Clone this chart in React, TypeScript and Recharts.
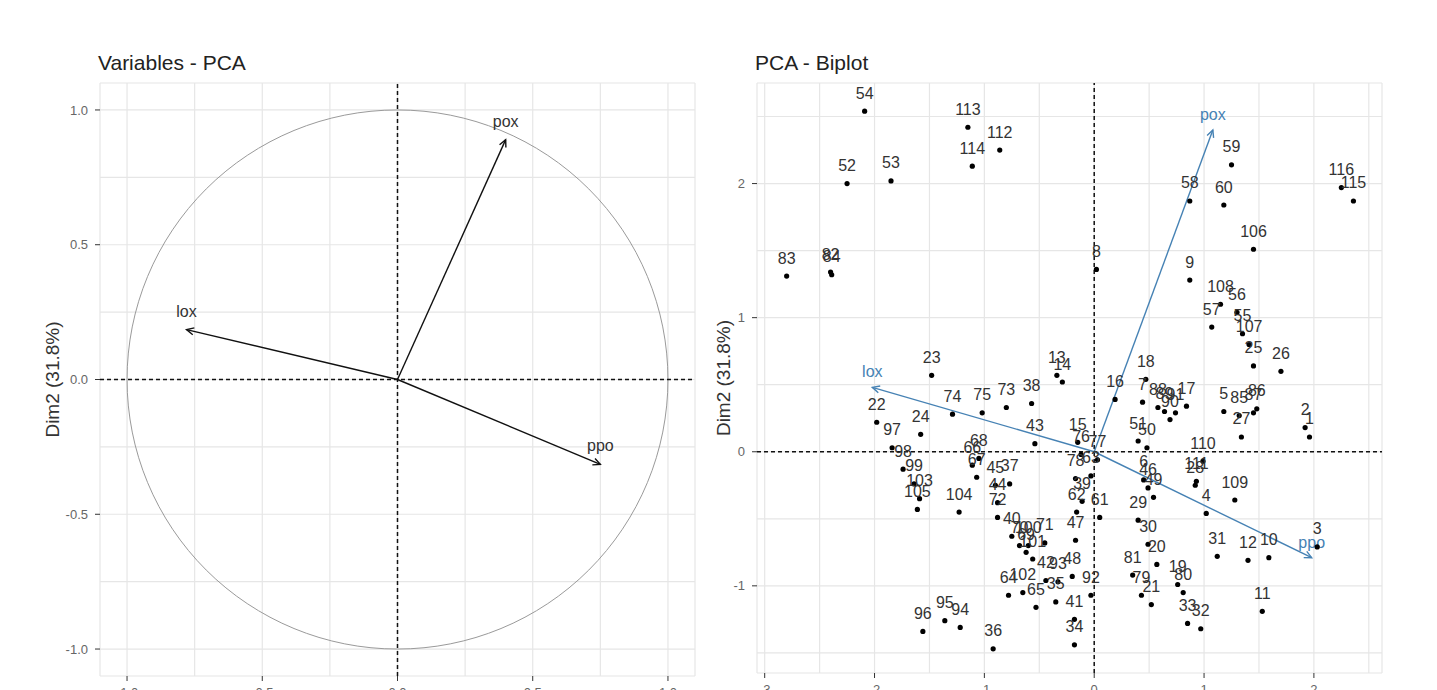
import {
  ScatterChart,
  Scatter,
  XAxis,
  YAxis,
  CartesianGrid,
  ReferenceLine,
  ReferenceArea,
  LabelList,
} from 'recharts';

// variables plot (correlation circle)
const varNames = ['lox', 'pox', 'ppo'];
const varDim1 = [-0.78, 0.4, 0.75];
const varDim2 = [0.185, 0.89, -0.315];

// same variables, scaled for the biplot
const bipVarDim1 = [-2.02, 1.08, 1.98];
const bipVarDim2 = [0.48, 2.4, -0.79];

// individuals
const obsIds = [
  '1', '2', '3', '4', '5', '6', '7', '8', '9', '10', '11', '12', '13', '14', '15', '16', '17', '18', '19', '20',
  '21', '22', '23', '24', '25', '26', '27', '28', '29', '30', '31', '32', '33', '34', '35', '36', '37', '38', '39', '40',
  '41', '42', '43', '44', '45', '46', '47', '48', '49', '50', '51', '52', '53', '54', '55', '56', '57', '58', '59', '60',
  '61', '62', '63', '64', '65', '66', '67', '68', '69', '70', '71', '72', '73', '74', '75', '76', '77', '78', '79', '80',
  '81', '82', '83', '84', '85', '86', '87', '88', '89', '90', '91', '92', '93', '94', '95', '96', '97', '98', '99', '100',
  '101', '102', '103', '104', '105', '106', '107', '108', '109', '110', '111', '112', '113', '114', '115', '116',
];
const obsDim1 = [
  1.96, 1.92, 2.03, 1.02, 1.18, 0.45, 0.44, 0.02, 0.87, 1.59, 1.53, 1.4, -0.34, -0.29, -0.15, 0.19, 0.84, 0.47, 0.76, 0.57,
  0.52, -1.98, -1.48, -1.58, 1.45, 1.7, 1.34, 0.92, 0.4, 0.49, 1.12, 0.97, 0.85, -0.18, -0.35, -0.92, -0.77, -0.57, -0.11, -0.75,
  -0.18, -0.44, -0.54, -0.88, -0.9, 0.49, -0.17, -0.2, 0.54, 0.48, 0.4, -2.25, -1.85, -2.09, 1.35, 1.3, 1.07, 0.87, 1.25, 1.18,
  0.05, -0.16, -0.03, -0.78, -0.53, -1.11, -1.07, -1.05, -0.62, -0.68, -0.45, -0.88, -0.8, -1.29, -1.02, -0.12, 0.03, -0.17, 0.43, 0.81,
  0.35, -2.4, -2.8, -2.39, 1.32, 1.48, 1.45, 0.58, 0.64, 0.69, 0.74, -0.03, -0.33, -1.22, -1.36, -1.56, -1.84, -1.74, -1.64, -0.6,
  -0.56, -0.65, -1.59, -1.23, -1.61, 1.45, 1.41, 1.15, 1.28, 0.99, 0.93, -0.86, -1.15, -1.11, 2.36, 2.25,
];
const obsDim2 = [
  0.11, 0.18, -0.71, -0.46, 0.3, -0.21, 0.37, 1.36, 1.28, -0.79, -1.19, -0.81, 0.57, 0.52, 0.07, 0.39, 0.34, 0.54, -0.99, -0.84,
  -1.14, 0.22, 0.57, 0.13, 0.64, 0.6, 0.11, -0.25, -0.51, -0.69, -0.78, -1.32, -1.28, -1.44, -1.12, -1.47, -0.24, 0.36, -0.37, -0.63,
  -1.25, -0.96, 0.06, -0.38, -0.25, -0.27, -0.66, -0.93, -0.34, 0.03, 0.08, 2.0, 2.02, 2.54, 0.88, 1.04, 0.93, 1.87, 2.14, 1.84,
  -0.49, -0.45, -0.18, -1.07, -1.16, -0.1, -0.19, -0.05, -0.75, -0.7, -0.68, -0.49, 0.33, 0.28, 0.29, -0.02, -0.06, -0.2, -1.07, -1.05,
  -0.92, 1.34, 1.31, 1.32, 0.27, 0.32, 0.29, 0.33, 0.3, 0.24, 0.29, -1.07, -0.97, -1.31, -1.26, -1.34, 0.03, -0.13, -0.24, -0.7,
  -0.8, -1.05, -0.35, -0.45, -0.43, 1.51, 0.8, 1.1, -0.36, -0.07, -0.22, 2.25, 2.42, 2.13, 1.87, 1.97,
];

const varTicks = [-1, -0.75, -0.5, -0.25, 0, 0.25, 0.5, 0.75, 1];
const bipXTicks = [-3, -2.5, -2, -1.5, -1, -0.5, 0, 0.5, 1, 1.5, 2, 2.5];
const bipYTicks = [-1.5, -1, -0.5, 0, 0.5, 1, 1.5, 2, 2.5];

const yTitle = 'Dim2 (31.8%)';

const FONT = '"Liberation Sans", Arial, sans-serif';
const GRID = '#e6e6e6';
const STEEL = '#4682b4';
const TICK_SIZE = 5;
const TICK_MARGIN = 7;

const varData = varNames.map((name, i) => ({ name, x: varDim1[i], y: varDim2[i] }));
const obsData = obsIds.map((id, i) => ({ id, x: obsDim1[i], y: obsDim2[i] }));

function isMajor(v: number, step: number) {
  return Math.abs(v / step - Math.round(v / step)) < 1e-9;
}

function leftTick(step: number, fmt: (v: number) => string) {
  return (props: any) => {
    const { x, y, payload } = props;
    if (!isMajor(payload.value, step)) return <g />;
    return (
      <g>
        <line x1={x + TICK_MARGIN} x2={x + TICK_MARGIN + TICK_SIZE} y1={y} y2={y} stroke="#333" />
        <text x={x} y={y} dy="0.35em" textAnchor="end" fontSize={13} fill="#666" fontFamily={FONT}>
          {fmt(payload.value)}
        </text>
      </g>
    );
  };
}

function bottomTick(step: number, fmt: (v: number) => string) {
  return (props: any) => {
    const { x, y, payload } = props;
    if (!isMajor(payload.value, step)) return <g />;
    return (
      <g>
        <line x1={x} x2={x} y1={y - TICK_MARGIN - TICK_SIZE} y2={y - TICK_MARGIN} stroke="#333" />
        <text x={x} y={y} dy="0.71em" textAnchor="middle" fontSize={13} fill="#666" fontFamily={FONT}>
          {fmt(payload.value)}
        </text>
      </g>
    );
  };
}

function arrowShape(label: string, color: string, labelColor: string, lift: number) {
  return (p: any) => {
    const { x1, y1, x2, y2 } = p;
    const ang = Math.atan2(y2 - y1, x2 - x1);
    const len = 8;
    const spread = Math.PI / 7;
    const ax = x2 - len * Math.cos(ang - spread);
    const ay = y2 - len * Math.sin(ang - spread);
    const bx = x2 - len * Math.cos(ang + spread);
    const by = y2 - len * Math.sin(ang + spread);
    return (
      <g>
        <line x1={x1} y1={y1} x2={x2} y2={y2} stroke={color} strokeWidth={1.4} />
        <polyline points={`${ax},${ay} ${x2},${y2} ${bx},${by}`} fill="none" stroke={color} strokeWidth={1.4} />
        <text x={x2} y={y2 - lift} textAnchor="middle" fontSize={16} fill={labelColor} fontFamily={FONT}>
          {label}
        </text>
      </g>
    );
  };
}

const circleShape = (p: any) => (
  <ellipse
    cx={p.x + p.width / 2}
    cy={p.y + p.height / 2}
    rx={p.width / 2}
    ry={p.height / 2}
    fill="none"
    stroke="#9a9a9a"
    strokeWidth={1}
  />
);

const dot = (p: any) => <circle cx={p.cx} cy={p.cy} r={2.6} fill="#000" />;

const fmt1 = (v: number) => v.toFixed(1);
const fmt0 = (v: number) => String(v);

function VariablesPlot() {
  return (
    <ScatterChart width={705} height={690} margin={{ top: 83, right: 10, bottom: 0, left: 0 }}>
      <CartesianGrid stroke={GRID} strokeWidth={1.2} />
      <XAxis
        type="number"
        dataKey="x"
        domain={[-1.1, 1.1]}
        allowDataOverflow
        ticks={varTicks}
        interval={0}
        height={14}
        axisLine={false}
        tickLine={false}
        tickSize={TICK_SIZE}
        tickMargin={TICK_MARGIN}
        tick={bottomTick(0.5, fmt1)}
      />
      <YAxis
        type="number"
        dataKey="y"
        domain={[-1.1, 1.1]}
        allowDataOverflow
        ticks={varTicks}
        interval={0}
        width={100}
        axisLine={false}
        tickLine={false}
        tickSize={TICK_SIZE}
        tickMargin={TICK_MARGIN}
        tick={leftTick(0.5, fmt1)}
        label={{ value: yTitle, angle: -90, position: 'center', dx: 2, fontSize: 19, fill: '#333', fontFamily: FONT }}
      />
      <ReferenceArea x1={-1} x2={1} y1={-1} y2={1} shape={circleShape} />
      <ReferenceLine x={0} stroke="#111" strokeWidth={1.5} strokeDasharray="4 3" />
      <ReferenceLine y={0} stroke="#111" strokeWidth={1.5} strokeDasharray="4 3" />
      {varData.map((v) => (
        <ReferenceLine
          key={v.name}
          segment={[{ x: 0, y: 0 }, { x: v.x, y: v.y }]}
          shape={arrowShape(v.name, '#111', '#333', 13)}
        />
      ))}
      <Scatter data={varData} shape={() => <g />} isAnimationActive={false} />
    </ScatterChart>
  );
}

function BiplotPlot() {
  return (
    <ScatterChart width={737} height={690} margin={{ top: 83, right: 55, bottom: 0, left: 0 }}>
      <CartesianGrid stroke={GRID} strokeWidth={1.2} />
      <XAxis
        type="number"
        dataKey="x"
        domain={[-3.07, 2.62]}
        allowDataOverflow
        ticks={bipXTicks}
        interval={0}
        height={17}
        axisLine={false}
        tickLine={false}
        tickSize={TICK_SIZE}
        tickMargin={TICK_MARGIN}
        tick={bottomTick(1, fmt0)}
      />
      <YAxis
        type="number"
        dataKey="y"
        domain={[-1.65, 2.75]}
        allowDataOverflow
        ticks={bipYTicks}
        interval={0}
        width={57}
        axisLine={false}
        tickLine={false}
        tickSize={TICK_SIZE}
        tickMargin={TICK_MARGIN}
        tick={leftTick(1, fmt0)}
        label={{ value: yTitle, angle: -90, position: 'center', dx: -5, fontSize: 19, fill: '#333', fontFamily: FONT }}
      />
      <ReferenceLine x={0} stroke="#111" strokeWidth={1.5} strokeDasharray="4 3" />
      <ReferenceLine y={0} stroke="#111" strokeWidth={1.5} strokeDasharray="4 3" />
      <Scatter data={obsData} shape={dot} isAnimationActive={false}>
        <LabelList dataKey="id" position="top" offset={8} fontSize={16} fill="#333" fontFamily={FONT} />
      </Scatter>
      {varNames.map((name, i) => (
        <ReferenceLine
          key={name}
          segment={[{ x: 0, y: 0 }, { x: bipVarDim1[i], y: bipVarDim2[i] }]}
          shape={arrowShape(name, STEEL, STEEL, 10)}
        />
      ))}
    </ScatterChart>
  );
}

export default function App() {
  return (
    <div
      style={{
        position: 'absolute',
        left: 0,
        top: 0,
        width: 1437,
        height: 690,
        overflow: 'hidden',
        background: '#fff',
        fontFamily: FONT,
      }}
    >
      <div style={{ position: 'absolute', left: 98, top: 52, fontSize: 21, lineHeight: 1, color: '#222' }}>
        Variables - PCA
      </div>
      <div style={{ position: 'absolute', left: 755, top: 52, fontSize: 21, lineHeight: 1, color: '#222' }}>
        PCA - Biplot
      </div>
      <div style={{ position: 'absolute', left: 0, top: 0 }}>
        <VariablesPlot />
      </div>
      <div style={{ position: 'absolute', left: 700, top: 0 }}>
        <BiplotPlot />
      </div>
    </div>
  );
}
